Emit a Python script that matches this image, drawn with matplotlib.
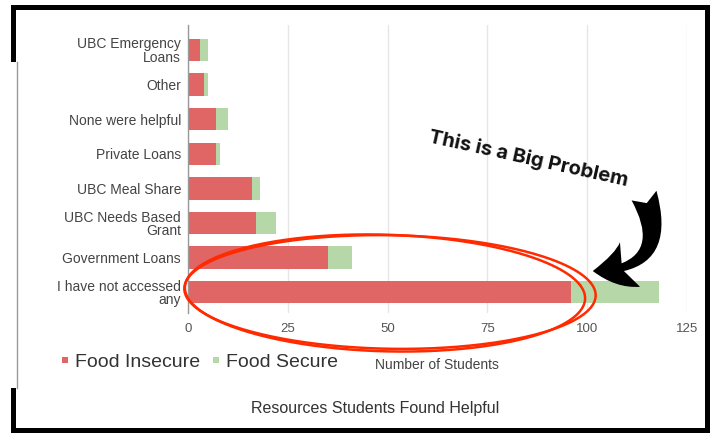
import matplotlib
matplotlib.use("Agg")
import matplotlib.pyplot as plt
from matplotlib.patches import Rectangle, FancyArrowPatch
from matplotlib.lines import Line2D
import numpy as np

plt.rcParams['font.family'] = ['Liberation Sans', 'DejaVu Sans']

# Survey answers: which resources students found helpful
categories = [
    "UBC Emergency\nLoans",
    "Other",
    "None were helpful",
    "Private Loans",
    "UBC Meal Share",
    "UBC Needs Based\nGrant",
    "Government Loans",
    "I have not accessed\nany",
]
food_insecure = [3, 4, 7, 7, 16, 17, 35, 96]
food_secure = [2, 1, 3, 1, 2, 5, 6, 22]
x_ticks = [0, 25, 50, 75, 100, 125]

RED = "#e06666"
GREEN = "#b6d7a8"

W, H = 714, 434
fig = plt.figure(figsize=(W / 100, H / 100), dpi=100)
fig.patch.set_facecolor("white")

# main bar chart, placed in pixel terms
ax = fig.add_axes([188 / W, 1 - 313 / H, 499 / W, 288 / H])
ypos = np.arange(len(categories))
ax.barh(ypos, food_insecure, height=0.65, color=RED, zorder=2)
ax.barh(ypos, food_secure, left=food_insecure, height=0.65, color=GREEN, zorder=2)

ax.set_xlim(0, 125)
ax.set_ylim(7.6, -0.72)
ax.set_xticks(x_ticks)
ax.set_yticks(ypos)
ax.set_yticklabels(categories, fontsize=10, color="#444444", linespacing=0.95)
ax.tick_params(axis="x", length=0, pad=7, labelsize=9.5, labelcolor="#555555")
ax.tick_params(axis="y", length=0, pad=5)
ax.grid(axis="x", color="#e6e6e6", linewidth=1, zorder=0)
for side in ["top", "right", "bottom"]:
    ax.spines[side].set_visible(False)
ax.spines["left"].set_color("#999999")
ax.spines["left"].set_linewidth(1)
ax.spines["left"].set_zorder(3)

square = dict(marker="s", linestyle="none", markersize=5, markeredgewidth=0)
fig.legend(
    handles=[Line2D([], [], color=RED, label="Food Insecure", **square),
             Line2D([], [], color=GREEN, label="Food Secure", **square)],
    loc="center left", bbox_to_anchor=(60 / W, 1 - 362 / H),
    ncol=2, frameon=False, fontsize=14, labelcolor="#333333",
    handlelength=0.5, handletextpad=0.25,
    columnspacing=0.6, borderpad=0, borderaxespad=0,
)
fig.text(437 / W, 1 - 365 / H, "Number of Students", fontsize=10,
         color="#444444", ha="center", va="center")
fig.text(375 / W, 1 - 408 / H, "Resources Students Found Helpful",
         fontsize=11.5, color="#333333", ha="center", va="center")

# overlay in pixel coordinates for the frame and hand-drawn markup
ov = fig.add_axes([0, 0, 1, 1], zorder=10)
ov.set_xlim(0, W)
ov.set_ylim(H, 0)
ov.axis("off")
ov.patch.set_alpha(0)

# black card frame
for x0, y0, w, h in [(11, 5, 699, 5), (705, 5, 5, 428), (11, 428, 699, 5),
                     (11, 5, 5, 57), (11, 388, 5, 45)]:
    ov.add_patch(Rectangle((x0, y0), w, h, color="black", lw=0))
ov.plot([16.5, 16.5], [62, 388], color="#999999", lw=1)

# red loop around the last bar
t = np.linspace(0, 2 * np.pi, 300)
for cx, cy, a, b, s, r in [(385, 293, 195, 58, 45, -8),
                           (390, 292, 200, 56, 48, -10)]:
    xs = cx + a * np.cos(t) + s * np.sin(t)
    ys = cy + b * np.sin(t) + r * np.cos(t)
    ov.plot(xs, ys, color="#ff2a00", lw=1.8, solid_capstyle="round")

ov.text(528, 159, "This is a Big Problem", fontsize=14.5, fontweight="bold",
        family=["Inter", "DejaVu Sans"], color="#111111", rotation=-12.5,
        ha="center", va="center", rotation_mode="anchor")

arrow = FancyArrowPatch((643, 193), (590, 271),
                        connectionstyle="arc3,rad=-0.75",
                        arrowstyle="fancy,head_length=1.7,head_width=2.2,tail_width=1.2",
                        mutation_scale=16, color="black", lw=0)
ov.add_patch(arrow)

fig.savefig("out.png", dpi=100, facecolor="white")
